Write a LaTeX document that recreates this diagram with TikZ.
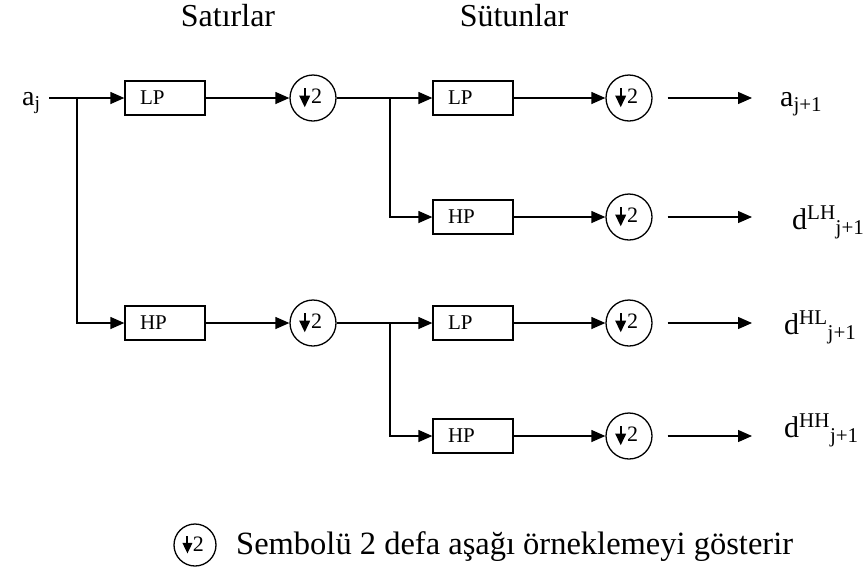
\documentclass[tikz,border=0pt]{standalone}
\usepackage{fontspec}
\setmainfont{Liberation Serif}
\usetikzlibrary{arrows.meta,calc}

\tikzset{
  filt/.style={draw, line width=1.3pt, minimum width=80pt, minimum height=34pt,
    inner xsep=15pt, inner ysep=0pt, text width=50pt, align=left,
    font=\fontsize{21}{21}\selectfont},
  down/.style={draw, circle, line width=1.3pt, minimum size=46pt, inner sep=0pt},
  conn/.style={line width=1.3pt, -{Triangle[length=14pt,width=12pt]}},
  ttl/.style={font=\fontsize{32}{32}\selectfont},
  sig/.style={anchor=base west, inner sep=0pt, font=\fontsize{30}{30}\selectfont},
}

% the "downsample by 2" symbol drawn inside a circle node
\newcommand{\dsmark}[2]{%
  \draw[line width=2pt] ($(#1)+(-0.36*#2,-0.42*#2)$) -- ($(#1)+(-0.36*#2,-0.05*#2)$);
  \fill ($(#1)+(-0.60*#2,-0.10*#2)$) -- ($(#1)+(-0.12*#2,-0.10*#2)$) -- ($(#1)+(-0.36*#2,0.40*#2)$) -- cycle;
  \node[inner sep=0pt, font=\fontsize{22}{22}\selectfont] (#1-two) at ($(#1)+(0.16*#2,-0.06*#2)$) {2};
}

\begin{document}
\begin{tikzpicture}[x=1pt, y=-1pt]
  \useasboundingbox (0,0) rectangle (867,579);

  % column headings
  \node[ttl] (rows) at (228,16) {Satırlar};
  \node[ttl] (cols) at (514,16) {Sütunlar};

  % input
  \node[sig, font=\fontsize{28}{28}\selectfont] (aj) at (22,105) {a\textsubscript{j}};
  \coordinate (in) at (49,98);
  \coordinate (b1) at (77,98);

  % first stage: rows
  \node[filt] (lp1) at (165,98) {LP};
  \node[filt] (hp1) at (165,323) {HP};
  \node[down] (c1) at (313,98) {};
  \node[down] (c2) at (313,323) {};

  \coordinate (b2) at (390,98);
  \coordinate (b3) at (390,323);

  % second stage: columns
  \node[filt] (lp2) at (473,98) {LP};
  \node[filt] (hp2) at (473,217) {HP};
  \node[filt] (lp3) at (473,323) {LP};
  \node[filt] (hp3) at (473,436) {HP};
  \node[down] (c3) at (629,98) {};
  \node[down] (c4) at (629,217) {};
  \node[down] (c5) at (629,323) {};
  \node[down] (c6) at (629,436) {};

  \foreach \n in {c1,c2,c3,c4,c5,c6} {\dsmark{\n}{23}}

  % outputs
  \coordinate (o1) at (752,98);
  \coordinate (o2) at (752,217);
  \coordinate (o3) at (752,323);
  \coordinate (o4) at (752,436);
  \node[sig] (out1) at (780,106) {a\textsubscript{j+1}};
  \node[sig] (out2) at (792,229) {d\textsuperscript{LH}\textsubscript{j+1}};
  \node[sig] (out3) at (784,334) {d\textsuperscript{HL}\textsubscript{j+1}};
  \node[sig] (out4) at (784,437) {d\textsuperscript{HH}\textsubscript{j+1}};

  % connections
  \draw[conn] (in) -- (lp1.west);
  \draw[conn] (b1) |- (hp1.west);
  \draw[conn] (lp1.east) -- (c1.west);
  \draw[conn] (hp1.east) -- (c2.west);
  \draw[conn] (c1.east) -- (lp2.west);
  \draw[conn] (b2) |- (hp2.west);
  \draw[conn] (c2.east) -- (lp3.west);
  \draw[conn] (b3) |- (hp3.west);
  \draw[conn] (lp2.east) -- (c3.west);
  \draw[conn] (hp2.east) -- (c4.west);
  \draw[conn] (lp3.east) -- (c5.west);
  \draw[conn] (hp3.east) -- (c6.west);
  \draw[conn] ([xshift=15pt]c3.east) -- (o1);
  \draw[conn] ([xshift=15pt]c4.east) -- (o2);
  \draw[conn] ([xshift=15pt]c5.east) -- (o3);
  \draw[conn] ([xshift=15pt]c6.east) -- (o4);

  % legend
  \node[down, minimum size=42pt] (key) at (195,545) {};
  \dsmark{key}{21}
  \node[anchor=west, inner sep=0pt, font=\fontsize{32.5}{33}\selectfont] (keytext) at (236,547)
    {Sembolü 2 defa aşağı örneklemeyi gösterir};
\end{tikzpicture}
\end{document}
